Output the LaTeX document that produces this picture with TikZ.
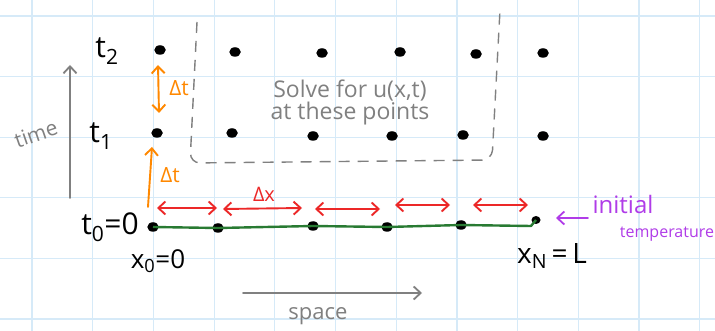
\documentclass[tikz,border=0pt]{standalone}
\usepackage{fontspec}
\setmainfont{Open Sans}
\usetikzlibrary{arrows.meta,shapes.geometric}
\definecolor{gridblue}{RGB}{214,234,248}
\definecolor{pengray}{RGB}{128,128,128}
\definecolor{penorange}{RGB}{255,136,0}
\definecolor{penred}{RGB}{236,40,40}
\definecolor{pengreen}{RGB}{40,122,50}
\definecolor{penpurple}{RGB}{176,60,232}
\tikzset{
  gridline/.style={draw=gridblue, line width=1.2pt},
  dot/.style={ellipse, fill=black, inner sep=0pt, minimum width=11.5pt, minimum height=9.5pt},
  barb/.style={-{Straight Barb[length=7pt,width=13pt]}},
  dbarb/.style={{Straight Barb[length=7pt,width=13pt]}-{Straight Barb[length=7pt,width=13pt]}},
  grayarrow/.style={draw=pengray, line width=1.8pt, line cap=round},
  redarrow/.style={draw=penred, line width=1.9pt, line cap=round, dbarb},
  orangearrow/.style={draw=penorange, line width=1.9pt, line cap=round},
  hand/.style={inner sep=0pt, font=\fontsize{30}{34}\selectfont},
}
\begin{document}
\begin{tikzpicture}[x=1pt, y=-1pt]
\useasboundingbox (0,0) rectangle (715,331);
\fill[white] (0,0) rectangle (715,331);

% graph paper
\foreach \i in {0,...,11}
  \draw[gridline] ({32+60.7*\i},0) -- ({32+60.7*\i},331);
\foreach \j in {0,...,5}
  \draw[gridline] (0,{16+60.6*\j}) -- (715,{16+60.6*\j});

% region where u(x,t) is unknown
\draw[pengray, line width=1.4pt, dash pattern=on 11pt off 8pt, rounded corners=10pt]
  (197,22) -- (190,163) -- (492,160) -- (500,10);

% grid points, row t2
\node[dot] (c0) at (160,50) {};
\node[dot] (c1) at (235,52) {};
\node[dot] (c2) at (322,53) {};
\node[dot] (c3) at (400,52) {};
\node[dot] (c4) at (476,54) {};
\node[dot] (c5) at (543,53) {};
% row t1
\node[dot] (b0) at (157,133) {};
\node[dot] (b1) at (232,133) {};
\node[dot] (b2) at (313,136) {};
\node[dot] (b3) at (392,136) {};
\node[dot] (b4) at (463,135) {};
\node[dot] (b5) at (543,136) {};
% row t0
\node[dot] (a0) at (153,227) {};
\node[dot] (a1) at (218,228) {};
\node[dot] (a2) at (313,226) {};
\node[dot] (a3) at (387,227) {};
\node[dot] (a4) at (461,225) {};
\node[dot, minimum width=9pt, minimum height=8pt] (a5) at (536,220) {};

% initial condition along t0
\draw[pengreen, line width=2.4pt, line join=round]
  (a0.center) -- (a1.center) -- (a2.center) -- (a3.center) -- (a4.center)
  -- (531,226) -- (a5.center);

% spacing in x
\coordinate (r1a) at (157,208); \coordinate (r1b) at (217,208);
\coordinate (r2a) at (223,209); \coordinate (r2b) at (302,208);
\coordinate (r3a) at (315,209); \coordinate (r3b) at (380,209);
\coordinate (r4a) at (395,205); \coordinate (r4b) at (450,205);
\coordinate (r5a) at (473,205); \coordinate (r5b) at (528,205);
\draw[redarrow] (r1a) -- (r1b);
\draw[redarrow] (r2a) -- (r2b);
\draw[redarrow] (r3a) -- (r3b);
\draw[redarrow] (r4a) -- (r4b);
\draw[redarrow] (r5a) -- (r5b);
\node[hand, text=penred, font=\fontsize{20}{24}\selectfont] (dx) at (264,194) {Δx};

% spacing in t
\coordinate (o1a) at (158,65); \coordinate (o1b) at (159,113);
\draw[orangearrow, dbarb] (o1a) -- (o1b);
\node[hand, text=penorange, font=\fontsize{21}{24}\selectfont] (dt1) at (179,88) {Δt};
\coordinate (o2a) at (148,207); \coordinate (o2b) at (152,147);
\draw[orangearrow, barb] (o2a) -- (o2b);
\node[hand, text=penorange, font=\fontsize{21}{24}\selectfont] (dt2) at (170,175) {Δt};

% axis arrows
\coordinate (tA) at (70,198); \coordinate (tB) at (70,65);
\draw[grayarrow, barb] (tA) -- (tB);
\node[hand, text=pengray, rotate=19, font=\fontsize{21}{24}\selectfont] (time) at (36,134) {time};
\coordinate (sA) at (243,293); \coordinate (sB) at (422,293);
\draw[grayarrow, barb] (sA) -- (sB);
\node[hand, text=pengray, font=\fontsize{22}{24}\selectfont] (space) at (318,316) {space};

% time level labels
\node[hand] (t2) at (107,51) {t\textsubscript{2}};
\node[hand] (t1) at (101,136) {t\textsubscript{1}};
\node[hand] (t0) at (110,227) {t\textsubscript{0}=0};
\node[hand, font=\fontsize{26}{30}\selectfont] (x0) at (158,261) {x\textsubscript{0}=0};
\node[hand, font=\fontsize{28}{32}\selectfont] (xN) at (552,256) {x\textsubscript{N}\,=\,L};

% note inside the unknown region
\node[hand, text=pengray, font=\fontsize{23}{26}\selectfont, align=center] (note) at (350,102)
  {Solve for u(x,t)\\[-4pt] at these points};

% initial data label
\coordinate (pA) at (588,218); \coordinate (pB) at (556,218);
\draw[penpurple, line width=1.8pt, line cap=round, barb] (pA) -- (pB);
\node[hand, text=penpurple, font=\fontsize{24}{28}\selectfont] (init) at (623,205) {initial};
\node[hand, text=penpurple, font=\fontsize{16}{18}\selectfont] (temp) at (667,234) {temperature};
\end{tikzpicture}
\end{document}
